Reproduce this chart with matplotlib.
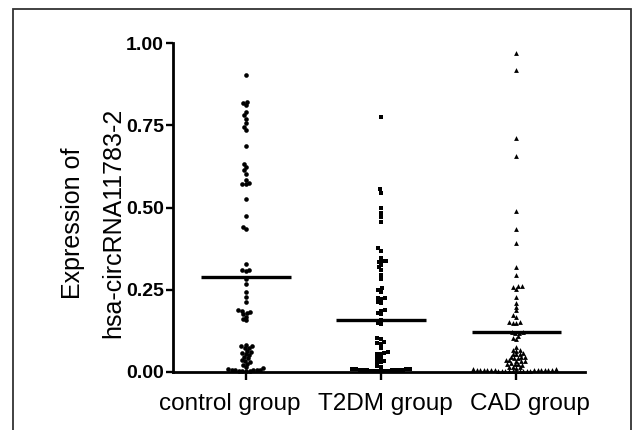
import numpy as np
import matplotlib
matplotlib.use("Agg")
import matplotlib.pyplot as plt
from matplotlib.patches import Rectangle
from matplotlib.transforms import ScaledTranslation

plt.rcParams["font.family"] = ["Liberation Sans", "DejaVu Sans"]

GROUPS = ["control group", "T2DM group", "CAD group"]

CONTROL = [0.902, 0.822, 0.818, 0.812, 0.790, 0.780, 0.770, 0.757, 0.745, 0.735,
           0.686, 0.633, 0.623, 0.613, 0.603, 0.585, 0.575, 0.572, 0.570, 0.527,
           0.473, 0.442, 0.436, 0.329, 0.311, 0.309, 0.307, 0.284, 0.266, 0.243,
           0.228, 0.213, 0.188, 0.186, 0.183, 0.180, 0.176, 0.168, 0.162, 0.157,
           0.082, 0.080, 0.078, 0.074, 0.072, 0.065, 0.062, 0.058, 0.055, 0.052,
           0.045, 0.042, 0.036, 0.034, 0.031, 0.025, 0.022, 0.015, 0.012, 0.008,
           0.007, 0.006, 0.006, 0.005, 0.005, 0.004, 0.004, 0.003, 0.003]

T2DM = [0.776, 0.555, 0.545, 0.497, 0.484, 0.472, 0.457, 0.376, 0.369, 0.346,
        0.338, 0.336, 0.333, 0.325, 0.318, 0.310, 0.295, 0.282, 0.254, 0.250,
        0.244, 0.226, 0.224, 0.222, 0.214, 0.210, 0.188, 0.186, 0.180, 0.175,
        0.158, 0.149, 0.145, 0.103, 0.101, 0.090, 0.088, 0.086, 0.073, 0.060,
        0.058, 0.056, 0.054, 0.044, 0.042, 0.032, 0.031, 0.029, 0.017, 0.015,
        0.009, 0.009, 0.008, 0.008, 0.007, 0.007, 0.006, 0.006, 0.006,
        0.005, 0.005, 0.004, 0.004, 0.004, 0.003, 0.003, 0.002]

CAD = [0.969, 0.918, 0.712, 0.657, 0.489, 0.434, 0.391, 0.318, 0.295, 0.262,
       0.260, 0.258, 0.251, 0.227, 0.211, 0.199, 0.188, 0.173, 0.168, 0.153,
       0.151, 0.150, 0.149, 0.122, 0.121, 0.120, 0.118, 0.110, 0.103, 0.100,
       0.077, 0.067, 0.066, 0.065, 0.057, 0.056, 0.055, 0.054, 0.047, 0.046,
       0.045, 0.044, 0.043, 0.036, 0.035, 0.034, 0.033, 0.032, 0.026, 0.025,
       0.024, 0.023, 0.022, 0.016, 0.015, 0.014, 0.013,
       0.008, 0.008, 0.007, 0.007, 0.007, 0.006, 0.006, 0.006,
       0.006, 0.005, 0.005, 0.005, 0.005, 0.005, 0.004, 0.004,
       0.004, 0.004, 0.003, 0.003, 0.003, 0.002, 0.002, 0.002]

MEANS = [0.289, 0.157, 0.123]
MARKERS = ["o", "s", "^"]
MARKER_SIZES = [11, 8, 12]
YTICKS = [0.0, 0.25, 0.5, 0.75, 1.0]
# label shift (pixels) relative to the tick, as in the original
LABEL_SHIFT = [-16, 4, 14]


def swarm_offsets(ypix, diameter):
    """Simple beeswarm: x offsets (px) so that no two markers overlap."""
    order = np.argsort(ypix, kind="stable")
    placed = []
    offsets = np.zeros(len(ypix))
    for i in order:
        y = ypix[i]
        near = [(px, py) for px, py in placed if abs(py - y) < diameter]
        cands = [0.0]
        for px, py in near:
            dx = np.sqrt(diameter ** 2 - (py - y) ** 2)
            cands += [px - dx, px + dx]
        cands.sort(key=abs)
        for c in cands:
            if all((c - px) ** 2 + (y - py) ** 2 >= diameter ** 2 - 1e-6
                   for px, py in near):
                break
        offsets[i] = c
        placed.append((c, y))
    return offsets


W, H, DPI = 633, 430, 100
fig = plt.figure(figsize=(W / DPI, H / DPI), dpi=DPI)
ax_box = [173 / W, 1 - 372 / H, (585 - 173) / W, (372 - 43) / H]
ax = fig.add_axes(ax_box)
xlim = (-0.54, 2.51)
ax.set_xlim(*xlim)
ax.set_ylim(0, 1.0)

px_per_x = ax_box[2] * W / (xlim[1] - xlim[0])
px_per_y = ax_box[3] * H

for i, (vals, marker, ms) in enumerate(zip([CONTROL, T2DM, CAD], MARKERS, MARKER_SIZES)):
    vals = np.asarray(vals)
    offs = swarm_offsets(vals * px_per_y, 3.6) / px_per_x
    ax.scatter(i + offs, vals, s=ms, marker=marker, color="black",
               linewidths=0, clip_on=False, zorder=3)
    ax.plot([i - 0.33, i + 0.33], [MEANS[i], MEANS[i]], color="black",
            lw=2.4, solid_capstyle="butt", zorder=4)

for side in ("top", "right"):
    ax.spines[side].set_visible(False)
for side in ("left", "bottom"):
    ax.spines[side].set_linewidth(2.0)
    ax.spines[side].set_capstyle("projecting")

ax.set_yticks(YTICKS)
ax.set_yticklabels([f"{t:.2f}" for t in YTICKS], fontsize=14, fontweight="bold")
ax.tick_params(axis="y", length=5, width=1.7, pad=1.5)
ax.set_xticks(range(len(GROUPS)))
ax.set_xticklabels(GROUPS, fontsize=17.5)
ax.tick_params(axis="x", length=6, width=1.7, pad=9)
for lab, dx in zip(ax.get_xticklabels(), LABEL_SHIFT):
    lab.set_transform(lab.get_transform() + ScaledTranslation(dx / DPI, 0, fig.dpi_scale_trans))

fig.text(80 / W, 1 - 223 / H, "Expression of", rotation=90, rotation_mode="anchor",
         ha="center", va="baseline", fontsize=18)
fig.text(120 / W, 1 - 223 / H, "hsa-circRNA11783-2", rotation=90, rotation_mode="anchor",
         ha="center", va="baseline", fontsize=18)

fig.patches.append(Rectangle((13 / W, -0.1), (631 - 13) / W, 1.1 - 9.5 / H,
                             transform=fig.transFigure, fill=False,
                             edgecolor="#333333", linewidth=1.3))

fig.savefig("out.png", dpi=DPI)
